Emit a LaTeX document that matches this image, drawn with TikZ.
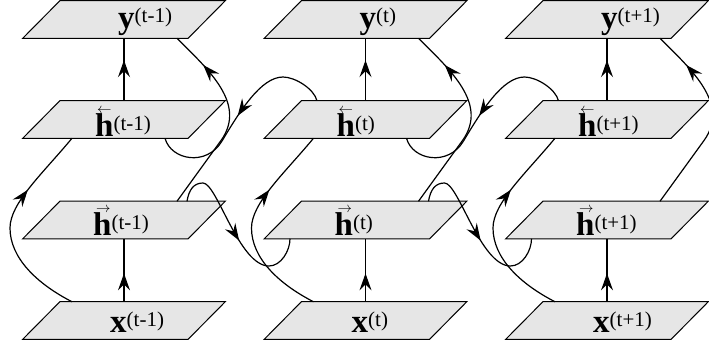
\documentclass[tikz,border=0pt]{standalone}
\usepackage{amsmath}
\usepackage{fontspec}
\setmainfont{Liberation Serif}
\usetikzlibrary{arrows.meta,calc,decorations.markings}
\definecolor{lgrey}{HTML}{E6E6E6}

\newcommand{\sps}[1]{\raisebox{6pt}{\fontsize{21}{21}\selectfont(#1)}}
\newcommand{\hbk}{\makebox[0pt][l]{\hspace{2pt}\raisebox{23pt}{\fontsize{14}{14}\selectfont$\leftarrow$}}\textbf{h}}
\newcommand{\hfw}{\makebox[0pt][l]{\hspace{3pt}\raisebox{23pt}{\fontsize{14}{14}\selectfont$\rightarrow$}}\textbf{h}}
% slanted layer drawn round an (invisible) node
\newcommand{\slab}[1]{\filldraw[fill=lgrey,line width=1pt]
  ($(#1.south west)+(-18.75,0)$) -- ($(#1.south east)+(-18.75,0)$)
  -- ($(#1.north east)+(18.75,0)$) -- ($(#1.north west)+(18.75,0)$) -- cycle;}

\begin{document}
\begin{tikzpicture}[
  x=1pt,y=-1pt,
  lay/.style={minimum width=165pt,minimum height=37.5pt,inner sep=0pt},
  txt/.style={anchor=base west,inner sep=0pt,font=\fontsize{33}{33}\selectfont},
  arr/.style={line width=1.2pt},
  midtip/.style={postaction={decorate,decoration={markings,
      mark=at position #1 with {\arrow{Stealth[length=17pt,width=12pt,inset=6pt]}}}}}]

  \useasboundingbox (0,0) rectangle (709,349);

  % layers, left column
  \node[lay] (y1) at (124,19.5) {};
  \node[lay] (hb1) at (124,119.5) {};
  \node[lay] (hf1) at (124,220) {};
  \node[lay] (x1) at (124,320.5) {};
  % middle column
  \node[lay] (y2) at (365.5,19.5) {};
  \node[lay] (hb2) at (365.5,119.5) {};
  \node[lay] (hf2) at (365.5,220) {};
  \node[lay] (x2) at (365.5,320.5) {};
  % right column
  \node[lay] (y3) at (607,19.5) {};
  \node[lay] (hb3) at (607,119.5) {};
  \node[lay] (hf3) at (607,220) {};
  \node[lay] (x3) at (607,320.5) {};

  \slab{y1} \slab{hb1} \slab{hf1} \slab{x1}
  \slab{y2} \slab{hb2} \slab{hf2} \slab{x2}
  \slab{y3} \slab{hb3} \slab{hf3} \slab{x3}

  \node[txt] (ly1) at ($(y1)+(-6,9)$) {\textbf{y}\sps{t-1}};
  \node[txt] (lhb1) at ($(hb1)+(-29,16.5)$) {\hbk\sps{t-1}};
  \node[txt] (lhf1) at ($(hf1)+(-31,15)$) {\hfw\sps{t-1}};
  \node[txt] (lx1) at ($(x1)+(-14,11.5)$) {\textbf{x}\sps{t-1}};

  \node[txt] (ly2) at ($(y2)+(-6,9)$) {\textbf{y}\sps{t}};
  \node[txt] (lhb2) at ($(hb2)+(-29,16.5)$) {\hbk\sps{t}};
  \node[txt] (lhf2) at ($(hf2)+(-31,15)$) {\hfw\sps{t}};
  \node[txt] (lx2) at ($(x2)+(-14,11.5)$) {\textbf{x}\sps{t}};

  \node[txt] (ly3) at ($(y3)+(-6,9)$) {\textbf{y}\sps{t+1}};
  \node[txt] (lhb3) at ($(hb3)+(-29,16.5)$) {\hbk\sps{t+1}};
  \node[txt] (lhf3) at ($(hf3)+(-31,15)$) {\hfw\sps{t+1}};
  \node[txt] (lx3) at ($(x3)+(-14,11.5)$) {\textbf{x}\sps{t+1}};

  % straight links
  \draw[arr,midtip=0.45] (x1) -- (hf1);
  \draw[arr,midtip=0.65] (hb1) -- (y1);
  \draw[arr,midtip=0.45] (x2) -- (hf2);
  \draw[arr,midtip=0.65] (hb2) -- (y2);
  \draw[arr,midtip=0.45] (x3) -- (hf3);
  \draw[arr,midtip=0.65] (hb3) -- (y3);

  % input to backward layer
  \draw[arr,midtip=0.68] ($(x1)+(-52,-18.75)$) .. controls +(-35,-18) and +(0,30)
        .. ($(x1)+(-114,-92.5)$) .. controls +(0,-25) and +(-29,35) .. ($(hb1)+(-52,18.75)$);
  \draw[arr,midtip=0.68] ($(x2)+(-52,-18.75)$) .. controls +(-35,-18) and +(0,30)
        .. ($(x2)+(-114,-92.5)$) .. controls +(0,-25) and +(-29,35) .. ($(hb2)+(-52,18.75)$);
  \draw[arr,midtip=0.68] ($(x3)+(-52,-18.75)$) .. controls +(-35,-18) and +(0,30)
        .. ($(x3)+(-114,-92.5)$) .. controls +(0,-25) and +(-29,35) .. ($(hb3)+(-52,18.75)$);

  % forward layer to output
  \draw[arr,midtip=0.81] ($(hf1)+(53,-18.75)$) -- ($(hf1)+(97,-79.5)$)
        .. controls +(26,-36.5) and +(32,32) .. ($(y1)+(53,18.75)$);
  \draw[arr,midtip=0.81] ($(hf2)+(53,-18.75)$) -- ($(hf2)+(97,-79.5)$)
        .. controls +(26,-36.5) and +(32,32) .. ($(y2)+(53,18.75)$);
  \draw[arr,midtip=0.81] ($(hf3)+(53,-18.75)$) -- ($(hf3)+(97,-79.5)$)
        .. controls +(26,-36.5) and +(32,32) .. ($(y3)+(53,18.75)$);

  % forward recurrence
  \draw[arr,midtip=0.55] ($(hf1)+(63,-18.75)$) .. controls +(2,-12) and +(-9,0)
        .. ($(hf1)+(79,-37)$) .. controls +(14,0) and +(-30,0)
        .. ($(hf1)+(145,46)$) .. controls +(12,0) and +(0,12) .. ($(hf2)+(-75.5,18.75)$);
  \draw[arr,midtip=0.55] ($(hf2)+(63,-18.75)$) .. controls +(2,-12) and +(-9,0)
        .. ($(hf2)+(79,-37)$) .. controls +(14,0) and +(-30,0)
        .. ($(hf2)+(145,46)$) .. controls +(12,0) and +(0,12) .. ($(hf3)+(-75.5,18.75)$);

  % backward recurrence
  \draw[arr,midtip=0.51] ($(hb2)+(-48.5,-18.75)$) .. controls +(-3,-12) and +(12,0)
        .. ($(hb1)+(159,-42.5)$) .. controls +(-22,0) and +(18,-30)
        .. ($(hb1)+(98,21.5)$) .. controls +(-15.3,25.8) and +(6,22) .. ($(hb1)+(41,18.75)$);
  \draw[arr,midtip=0.51] ($(hb3)+(-48.5,-18.75)$) .. controls +(-3,-12) and +(12,0)
        .. ($(hb2)+(159,-42.5)$) .. controls +(-22,0) and +(18,-30)
        .. ($(hb2)+(98,21.5)$) .. controls +(-15.3,25.8) and +(6,22) .. ($(hb2)+(41,18.75)$);
\end{tikzpicture}
\end{document}
